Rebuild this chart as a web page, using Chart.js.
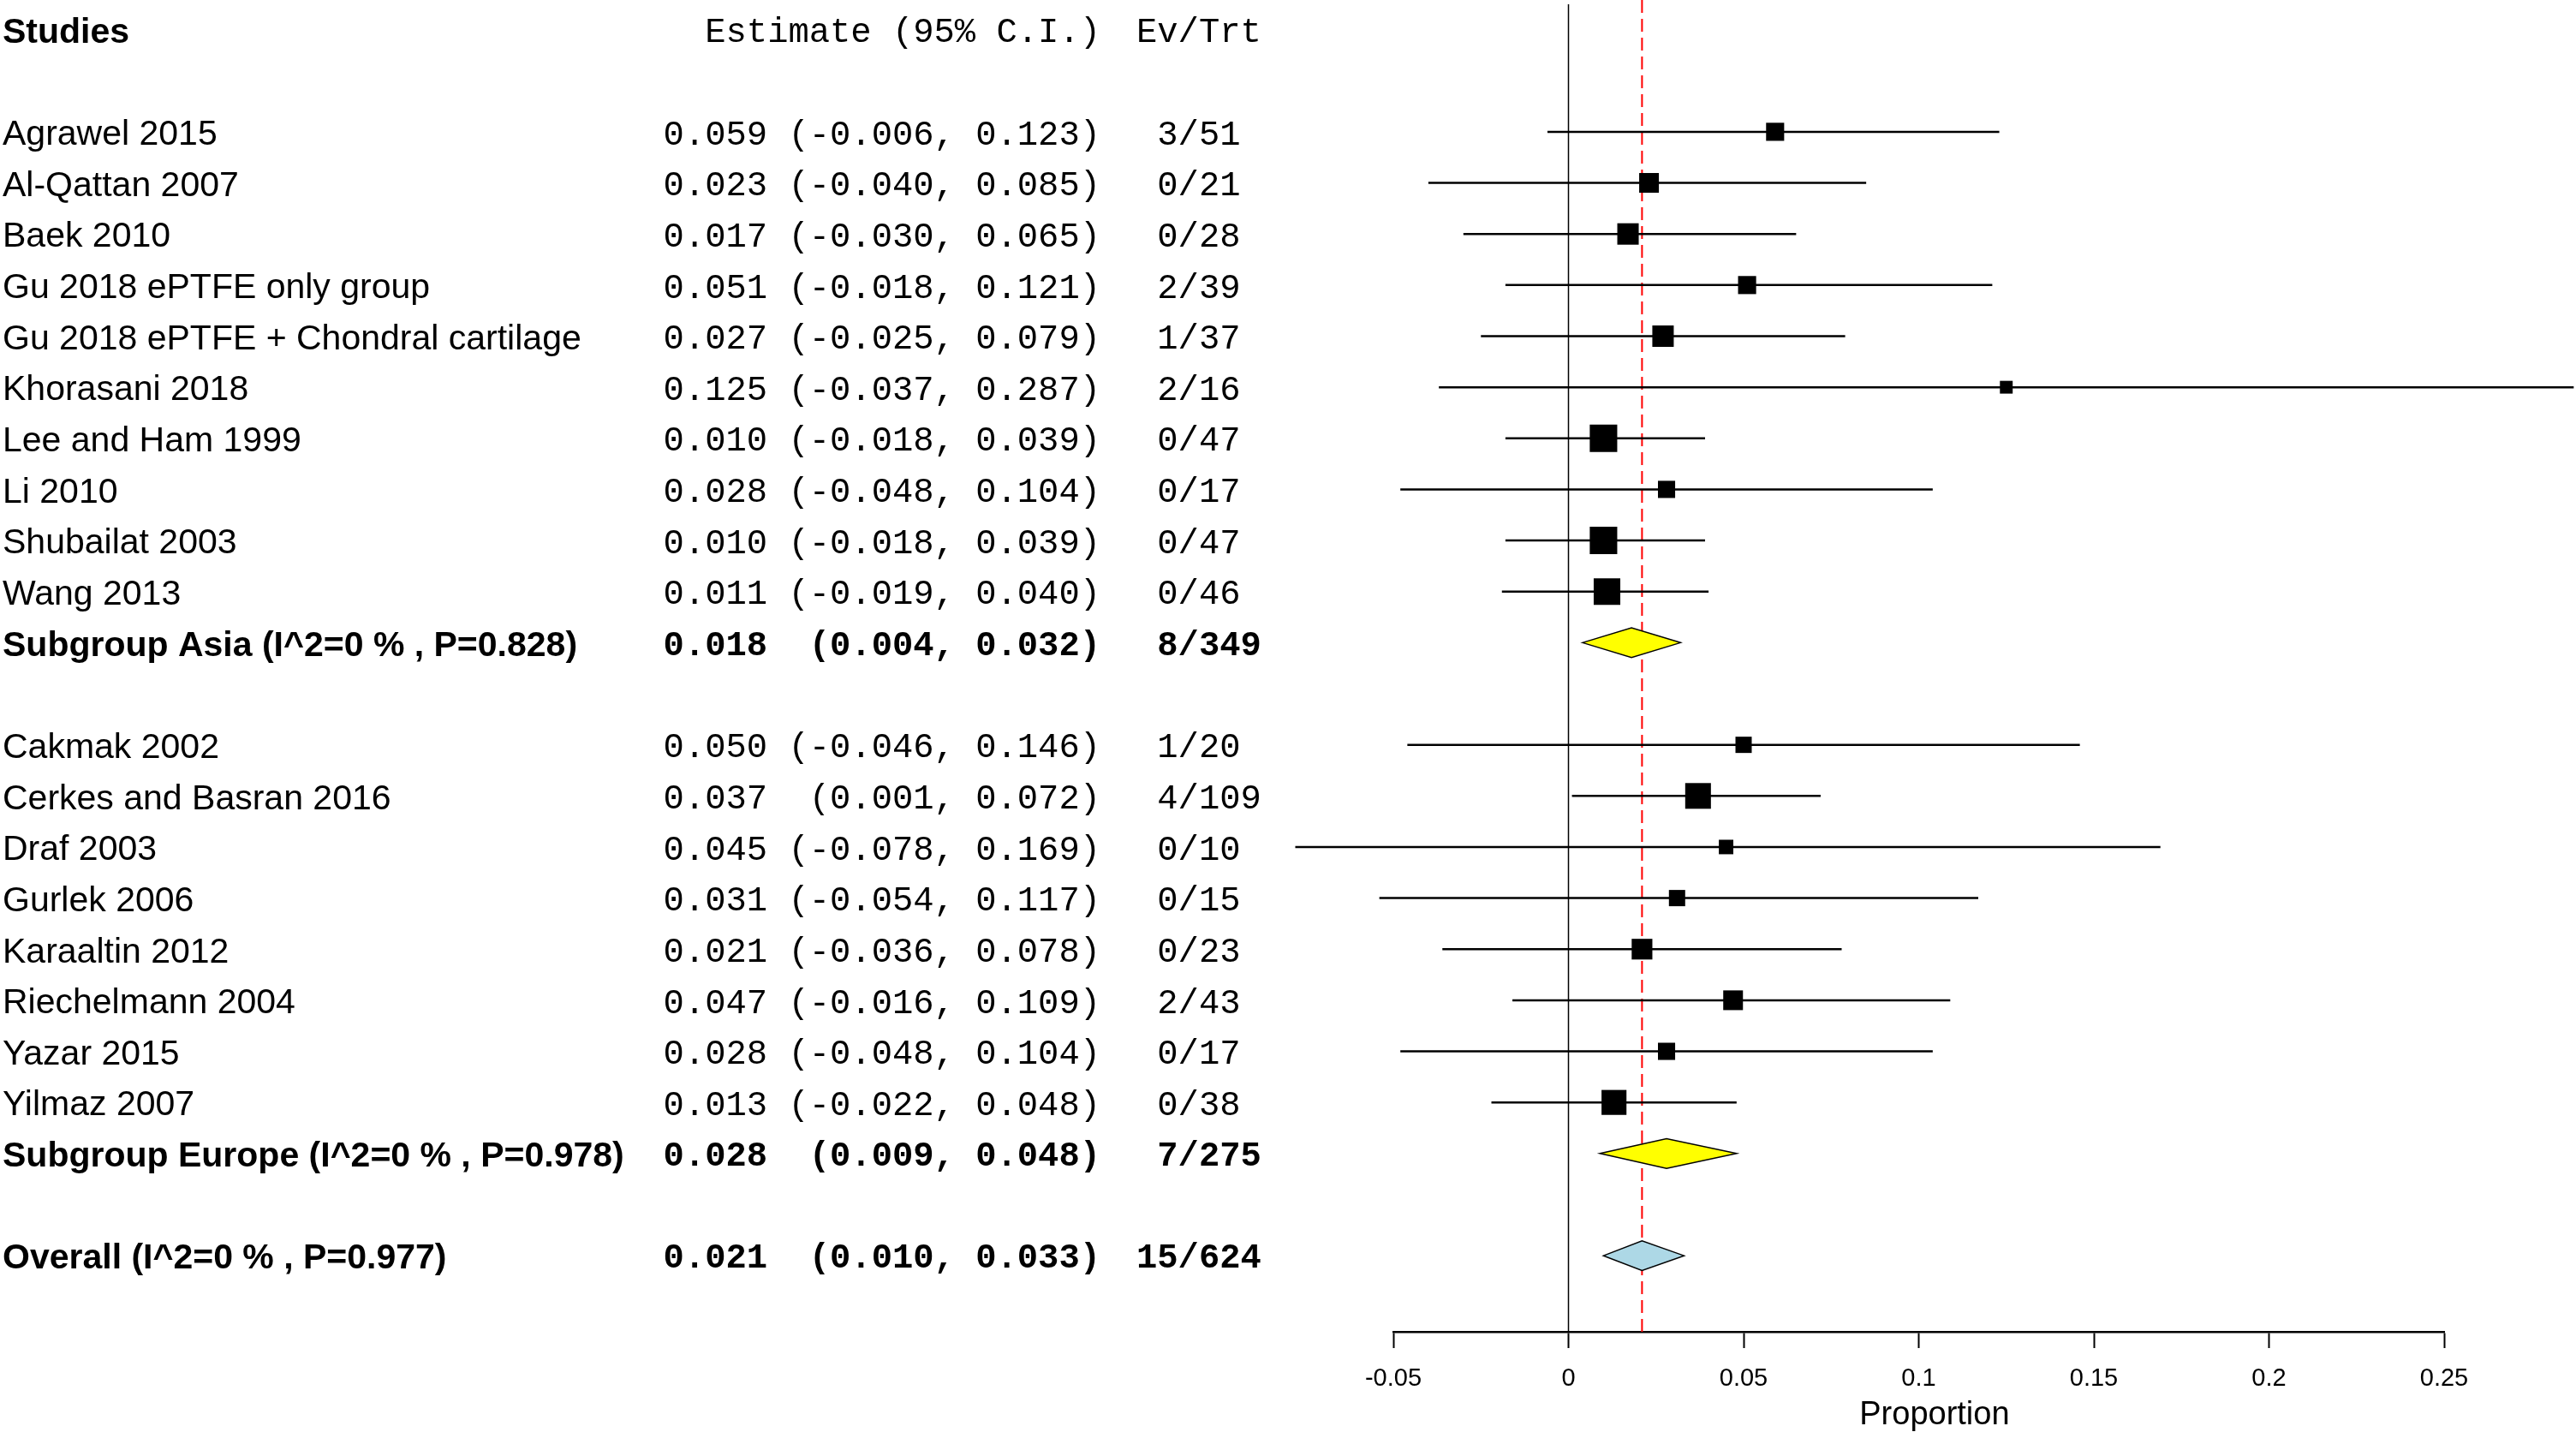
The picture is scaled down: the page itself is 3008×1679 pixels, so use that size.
<!DOCTYPE html>
<html>
<head>
<meta charset="utf-8">
<script src="https://cdn.jsdelivr.net/npm/chart.js@4.4.1/dist/chart.umd.min.js"></script>
<style>
    html, body { margin: 0; padding: 0; background: #fff; }
    #wrap { width: 3008px; height: 1679px; }
</style>
</head>
<body>
<div id="wrap"><canvas id="forest" width="3008" height="1679"></canvas></div>
<script>
// values
const asiaStudies = ['Agrawel 2015', 'Al-Qattan 2007', 'Baek 2010', 'Gu 2018 ePTFE only group',
    'Gu 2018 ePTFE + Chondral cartilage', 'Khorasani 2018', 'Lee and Ham 1999', 'Li 2010',
    'Shubailat 2003', 'Wang 2013'];
const asiaEst = [0.059, 0.023, 0.017, 0.051, 0.027, 0.125, 0.010, 0.028, 0.010, 0.011];
const asiaLower = [-0.006, -0.040, -0.030, -0.018, -0.025, -0.037, -0.018, -0.048, -0.018, -0.019];
const asiaUpper = [0.123, 0.085, 0.065, 0.121, 0.079, 0.287, 0.039, 0.104, 0.039, 0.040];
const asiaEvents = [3, 0, 0, 2, 1, 2, 0, 0, 0, 0];
const asiaTotal = [51, 21, 28, 39, 37, 16, 47, 17, 47, 46];
const asiaWeight = [4.2, 5.0, 5.9, 4.2, 5.9, 2.1, 9.7, 3.8, 9.7, 9.1];

const europeStudies = ['Cakmak 2002', 'Cerkes and Basran 2016', 'Draf 2003', 'Gurlek 2006',
    'Karaaltin 2012', 'Riechelmann 2004', 'Yazar 2015', 'Yilmaz 2007'];
const europeEst = [0.050, 0.037, 0.045, 0.031, 0.021, 0.047, 0.028, 0.013];
const europeLower = [-0.046, 0.001, -0.078, -0.054, -0.036, -0.016, -0.048, -0.022];
const europeUpper = [0.146, 0.072, 0.169, 0.117, 0.078, 0.109, 0.104, 0.048];
const europeEvents = [1, 4, 0, 0, 0, 2, 0, 0];
const europeTotal = [20, 109, 10, 15, 23, 43, 17, 38];
const europeWeight = [3.4, 8.5, 2.7, 3.4, 5.5, 5.0, 3.8, 8.0];

const summaryLabels = ['Subgroup Asia (I^2=0 % , P=0.828)', 'Subgroup Europe (I^2=0 % , P=0.978)',
    'Overall (I^2=0 % , P=0.977)'];
const summaryEst = [0.018, 0.028, 0.021];
const summaryLower = [0.004, 0.009, 0.010];
const summaryUpper = [0.032, 0.048, 0.033];
const summaryEvents = [8, 7, 15];
const summaryTotal = [349, 275, 624];

const headers = ['Studies', 'Estimate (95% C.I.)', 'Ev/Trt'];
const xTicks = [-0.05, 0, 0.05, 0.1, 0.15, 0.2, 0.25];
const xTickLabels = ['-0.05', '0', '0.05', '0.1', '0.15', '0.2', '0.25'];
const xTitle = 'Proportion';

const summaryFill = ['#ffff00', '#ffff00', '#add8e6'];
const SANS = '"Liberation Sans", Arial, sans-serif';
const MONO = '"Liberation Mono", "Courier New", monospace';

// lay the rows out top to bottom (row 0 = header)
const rows = [];
let r = 2;
function addStudies(names, est, lo, hi, ev, n, w) {
    names.forEach((name, i) => {
        rows.push({row: r++, summary: false, name: name, est: est[i], lo: lo[i], hi: hi[i], ev: ev[i], n: n[i], w: w[i]});
    });
}
function addSummary(i) {
    rows.push({row: r++, summary: true, idx: i, name: summaryLabels[i], est: summaryEst[i],
        lo: summaryLower[i], hi: summaryUpper[i], ev: summaryEvents[i], n: summaryTotal[i]});
    r++;
}
addStudies(asiaStudies, asiaEst, asiaLower, asiaUpper, asiaEvents, asiaTotal, asiaWeight);
addSummary(0);
addStudies(europeStudies, europeEst, europeLower, europeUpper, europeEvents, europeTotal, europeWeight);
addSummary(1);
addSummary(2);

const studyRows = rows.filter(d => !d.summary);
const summaryRows = rows.filter(d => d.summary);

function estText(d) {
    const lo = ('(' + d.lo.toFixed(3)).padStart(7, ' ');
    return d.est.toFixed(3) + ' ' + lo + ', ' + d.hi.toFixed(3) + ')';
}
function evText(d) {
    return String(d.ev).padStart(2, ' ') + '/' + d.n;
}

const forestPlugin = {
    id: 'forest',
    beforeDatasetsDraw(chart) {
        const {ctx, chartArea, scales: {x}} = chart;
        ctx.save();
        ctx.strokeStyle = '#000';
        ctx.lineWidth = 1.5;
        const x0 = x.getPixelForValue(0);
        ctx.beginPath();
        ctx.moveTo(x0, chartArea.top + 5);
        ctx.lineTo(x0, chartArea.bottom);
        ctx.stroke();
        // dashed line at the overall estimate
        ctx.strokeStyle = '#ff0000';
        ctx.lineWidth = 2;
        ctx.setLineDash([15, 7]);
        const xo = x.getPixelForValue(summaryEst[2]);
        ctx.beginPath();
        ctx.moveTo(xo, chartArea.top);
        ctx.lineTo(xo, chartArea.bottom);
        ctx.stroke();
        ctx.restore();
    },
    afterDatasetsDraw(chart) {
        const {ctx, scales: {x, y}} = chart;
        ctx.save();
        summaryRows.forEach(d => {
            const yc = y.getPixelForValue(d.row);
            const half = Math.abs(y.getPixelForValue(d.row + 0.29) - yc);
            ctx.beginPath();
            ctx.moveTo(x.getPixelForValue(d.lo), yc);
            ctx.lineTo(x.getPixelForValue(d.est), yc - half);
            ctx.lineTo(x.getPixelForValue(d.hi), yc);
            ctx.lineTo(x.getPixelForValue(d.est), yc + half);
            ctx.closePath();
            ctx.fillStyle = summaryFill[d.idx];
            ctx.fill();
            ctx.strokeStyle = '#000';
            ctx.lineWidth = 1.5;
            ctx.stroke();
        });
        ctx.restore();
    },
    afterDraw(chart) {
        const {ctx, chartArea, scales: {x, y}} = chart;
        ctx.save();
        ctx.fillStyle = '#000';
        ctx.textBaseline = 'middle';
        const nameX = 3, estRight = 1285, evX = 1327, dy = 4;
        const yh = y.getPixelForValue(0) + dy;
        ctx.font = 'bold 41px ' + SANS;
        ctx.textAlign = 'left';
        ctx.fillText(headers[0], nameX, yh);
        ctx.font = '40.5px ' + MONO;
        ctx.textAlign = 'right';
        ctx.fillText(headers[1], estRight, yh);
        ctx.textAlign = 'left';
        ctx.fillText(headers[2], evX, yh);
        rows.forEach(d => {
            const yy = y.getPixelForValue(d.row) + dy;
            const weight = d.summary ? 'bold ' : '';
            ctx.font = weight + '41px ' + SANS;
            ctx.textAlign = 'left';
            ctx.fillText(d.name, nameX, yy);
            ctx.font = weight + '40.5px ' + MONO;
            ctx.textAlign = 'right';
            ctx.fillText(estText(d), estRight, yy);
            ctx.textAlign = 'left';
            ctx.fillText(evText(d), evX, yy);
        });
        // axis title, centred over the full range of the intervals
        const lo = Math.min(...rows.map(d => d.lo));
        const hi = Math.max(...rows.map(d => d.hi));
        ctx.font = '38px ' + SANS;
        ctx.textAlign = 'center';
        ctx.fillText(xTitle, (x.getPixelForValue(lo) + x.getPixelForValue(hi)) / 2, chartArea.bottom + 98);
        ctx.restore();
    }
};

const ciDatasets = studyRows.map(d => ({
    label: d.name,
    data: [{x: d.lo, y: d.row}, {x: d.hi, y: d.row}],
    showLine: true,
    borderColor: '#000',
    borderWidth: 2.5,
    pointRadius: 0,
    clip: false,
    order: 1
}));

const squares = {
    label: 'estimates',
    data: studyRows.map(d => ({x: d.est, y: d.row})),
    pointStyle: 'rect',
    pointRadius: studyRows.map(d => 10.3 * Math.sqrt(d.w) / Math.SQRT2),
    backgroundColor: '#000',
    borderWidth: 0,
    clip: false,
    order: 0
};

new Chart(document.getElementById('forest'), {
    type: 'scatter',
    data: {datasets: [squares, ...ciDatasets]},
    options: {
        responsive: false,
        devicePixelRatio: 1,
        animation: false,
        events: [],
        layout: {autoPadding: false, padding: {left: 1627, right: 154, top: 0, bottom: 0}},
        plugins: {
            legend: {display: false},
            tooltip: {enabled: false}
        },
        scales: {
            x: {
                type: 'linear',
                min: xTicks[0],
                max: xTicks[xTicks.length - 1],
                afterBuildTicks: scale => { scale.ticks = xTicks.map(v => ({value: v})); },
                afterFit: scale => { scale.height = 124; },
                border: {display: true, color: '#000', width: 2.5},
                grid: {drawOnChartArea: false, drawTicks: true, tickLength: 19, tickWidth: 2, tickColor: '#000'},
                ticks: {
                    autoSkip: false,
                    maxRotation: 0,
                    padding: 19,
                    color: '#000',
                    font: {family: SANS, size: 29},
                    callback: (v, i) => xTickLabels[i]
                }
            },
            y: {
                type: 'linear',
                display: false,
                reverse: true,
                min: -0.58,
                max: 25.49
            }
        }
    },
    plugins: [forestPlugin]
});
</script>
</body>
</html>
